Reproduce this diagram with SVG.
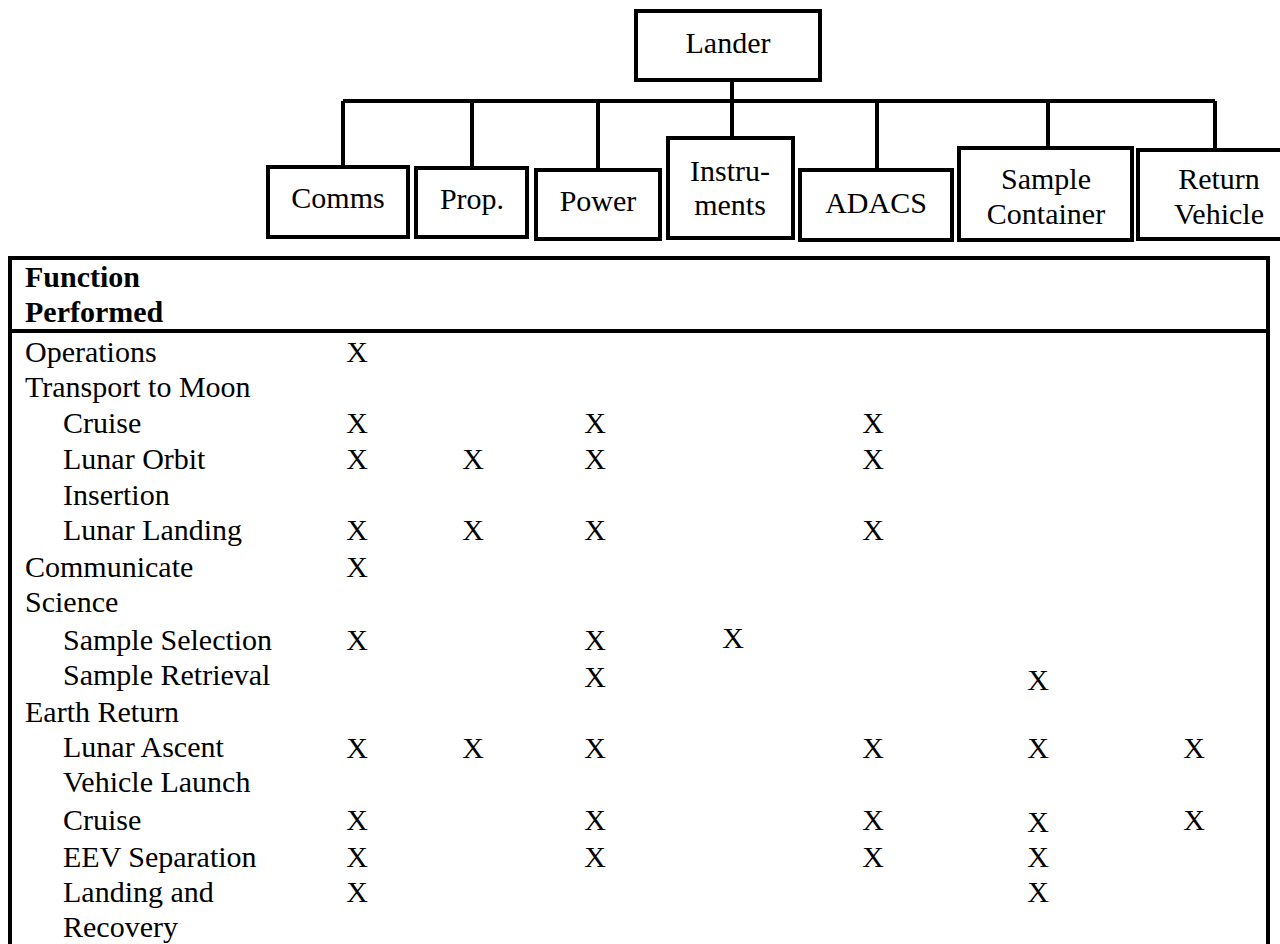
<svg xmlns="http://www.w3.org/2000/svg" width="1280" height="944" viewBox="0 0 1280 944" font-family="'Liberation Serif', 'Times New Roman', Times, serif">
  <style>
    text { font-family: "Liberation Serif", "Times New Roman", Times, serif; font-size: 30px; fill: #000; }
    .box { fill: #fff; stroke: #000; stroke-width: 4; }
    .lbl { text-anchor: middle; }
    .wire { fill: none; stroke: #000; stroke-width: 4; }
    .grid { fill: none; stroke: #000; stroke-width: 4; }
    .hd { font-weight: bold; }
    .x { text-anchor: middle; }
  </style>
  <rect width="1280" height="944" fill="#fff"/>

  <!-- connectors of the tree -->
  <g id="connectors">
    <path class="wire" d="M732 80 V138"/>
    <path class="wire" d="M343 101 H1215"/>
    <path class="wire" d="M343 101 V167"/>
    <path class="wire" d="M472 101 V168"/>
    <path class="wire" d="M598 101 V170"/>
    <path class="wire" d="M877 101 V170"/>
    <path class="wire" d="M1048 101 V148"/>
    <path class="wire" d="M1215 101 V150"/>
  </g>

  <g id="lander">
    <rect class="box" x="636" y="11" width="184" height="69"/>
    <text class="lbl" x="728" y="53">Lander</text>
  </g>
  <g id="comms">
    <rect class="box" x="268" y="167" width="140" height="70"/>
    <text class="lbl" x="338" y="208">Comms</text>
  </g>
  <g id="prop">
    <rect class="box" x="416" y="168" width="111" height="69"/>
    <text class="lbl" x="472" y="209">Prop.</text>
  </g>
  <g id="power">
    <rect class="box" x="536" y="170" width="124" height="69"/>
    <text class="lbl" x="598" y="211">Power</text>
  </g>
  <g id="instruments">
    <rect class="box" x="668" y="138" width="125" height="100"/>
    <text class="lbl" x="730" y="181">Instru-</text>
    <text class="lbl" x="730" y="215">ments</text>
  </g>
  <g id="adacs">
    <rect class="box" x="800" y="170" width="152" height="70"/>
    <text class="lbl" x="876" y="213">ADACS</text>
  </g>
  <g id="sample-container">
    <rect class="box" x="959" y="148" width="173" height="92"/>
    <text class="lbl" x="1046" y="189">Sample</text>
    <text class="lbl" x="1046" y="224">Container</text>
  </g>
  <g id="return-vehicle">
    <rect class="box" x="1138" y="150" width="164" height="89"/>
    <text class="lbl" x="1219" y="189">Return</text>
    <text class="lbl" x="1219" y="224">Vehicle</text>
  </g>

  <!-- function table -->
  <g id="table">
    <path class="grid" d="M10 960 V258 H1268 V960"/>
    <path class="grid" d="M10 331 H1268"/>
    <text class="hd" x="25" y="287">Function</text>
    <text class="hd" x="25" y="322">Performed</text>

    <text x="25" y="362">Operations</text>
    <text x="25" y="397">Transport to Moon</text>
    <text x="63" y="433">Cruise</text>
    <text x="63" y="469">Lunar Orbit</text>
    <text x="63" y="505">Insertion</text>
    <text x="63" y="540">Lunar Landing</text>
    <text x="25" y="577">Communicate</text>
    <text x="25" y="612">Science</text>
    <text x="63" y="650">Sample Selection</text>
    <text x="63" y="685">Sample Retrieval</text>
    <text x="25" y="722">Earth Return</text>
    <text x="63" y="757">Lunar Ascent</text>
    <text x="63" y="792">Vehicle Launch</text>
    <text x="63" y="830">Cruise</text>
    <text x="63" y="867">EEV Separation</text>
    <text x="63" y="902">Landing and</text>
    <text x="63" y="937">Recovery</text>
  </g>

  <!-- marks: columns Comms 357, Prop 473, Power 595, Instr 733, ADACS 873, Sample 1038, Return 1194 -->
  <g id="marks">
    <text class="x" x="357" y="362">X</text>

    <text class="x" x="357" y="433">X</text>
    <text class="x" x="595" y="433">X</text>
    <text class="x" x="873" y="433">X</text>

    <text class="x" x="357" y="469">X</text>
    <text class="x" x="473" y="469">X</text>
    <text class="x" x="595" y="469">X</text>
    <text class="x" x="873" y="469">X</text>

    <text class="x" x="357" y="540">X</text>
    <text class="x" x="473" y="540">X</text>
    <text class="x" x="595" y="540">X</text>
    <text class="x" x="873" y="540">X</text>

    <text class="x" x="357" y="577">X</text>

    <text class="x" x="357" y="650">X</text>
    <text class="x" x="595" y="650">X</text>
    <text class="x" x="733" y="648">X</text>

    <text class="x" x="595" y="687">X</text>
    <text class="x" x="1038" y="690">X</text>

    <text class="x" x="357" y="758">X</text>
    <text class="x" x="473" y="758">X</text>
    <text class="x" x="595" y="758">X</text>
    <text class="x" x="873" y="758">X</text>
    <text class="x" x="1038" y="758">X</text>
    <text class="x" x="1194" y="758">X</text>

    <text class="x" x="357" y="830">X</text>
    <text class="x" x="595" y="830">X</text>
    <text class="x" x="873" y="830">X</text>
    <text class="x" x="1038" y="832">X</text>
    <text class="x" x="1194" y="830">X</text>

    <text class="x" x="357" y="867">X</text>
    <text class="x" x="595" y="867">X</text>
    <text class="x" x="873" y="867">X</text>
    <text class="x" x="1038" y="867">X</text>

    <text class="x" x="357" y="902">X</text>
    <text class="x" x="1038" y="902">X</text>
  </g>
</svg>
